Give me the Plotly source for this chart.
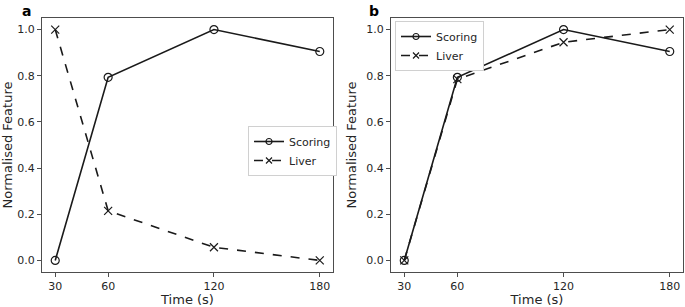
import plotly.graph_objects as go

time_s = [30, 60, 120, 180]
scoring_a = [0.0, 0.793, 1.0, 0.905]
liver_a = [1.0, 0.215, 0.057, 0.0]
scoring_b = [0.0, 0.793, 1.0, 0.905]
liver_b = [0.0, 0.785, 0.945, 1.0]
x_ticks = [30, 60, 120, 180]
y_ticks = [0.0, 0.2, 0.4, 0.6, 0.8, 1.0]

W, H = 685, 307
FONT = "DejaVu Sans"
TXT = "#262626"
AX = "#4d4d4d"
LC = "#1a1a1a"

fig = go.Figure()

def add(x, y, name, dash, symbol, xa, ya):
    fig.add_trace(go.Scatter(
        x=x, y=y, name=name, mode="lines+markers",
        line=dict(color=LC, width=1.6, dash=dash),
        marker=dict(symbol=symbol, size=8, color=LC, line=dict(color=LC, width=1.2)),
        xaxis=xa, yaxis=ya, showlegend=False))

def add_leg(name, dash, symbol, xa, ya, legend):
    fig.add_trace(go.Scatter(
        x=[None], y=[None], name=name, mode="lines+markers",
        line=dict(color=LC, width=1.6, dash=dash),
        marker=dict(symbol=symbol, size=6, color=LC, line=dict(color=LC, width=1.2)),
        xaxis=xa, yaxis=ya, legend=legend, showlegend=True))

add(time_s, scoring_a, "Scoring", "solid", "circle-open", "x", "y")
add(time_s, liver_a, "Liver", "dash", "x-thin-open", "x", "y")
add(time_s, scoring_b, "Scoring", "solid", "circle-open", "x2", "y2")
add(time_s, liver_b, "Liver", "dash", "x-thin-open", "x2", "y2")
add_leg("Scoring", "solid", "circle-open", "x", "y", "legend")
add_leg("Liver", "dash", "x-thin-open", "x", "y", "legend")
add_leg("Scoring", "solid", "circle-open", "x2", "y2", "legend2")
add_leg("Liver", "dash", "x-thin-open", "x2", "y2", "legend2")

ytop = 1 - 18 / H
ybot = 1 - 272 / H

def xax(dom, anchor):
    return dict(domain=dom, anchor=anchor, range=[22.5, 187.5], tickvals=x_ticks,
                ticks="outside", ticklen=4, tickcolor=AX, showline=True, linecolor=AX,
                linewidth=1, mirror=True, showgrid=False, zeroline=False,
                tickfont=dict(family=FONT, size=11, color=TXT),
                title=dict(text="Time (s)", font=dict(family=FONT, size=13, color=TXT), standoff=3),
                automargin=False)

def yax(anchor):
    return dict(domain=[ybot, ytop], anchor=anchor, range=[-0.05, 1.05], tickvals=y_ticks,
                ticktext=[f"{v:.1f}" for v in y_ticks],
                ticks="outside", ticklen=4, tickcolor=AX, showline=True, linecolor=AX,
                linewidth=1, mirror=True, showgrid=False, zeroline=False,
                tickfont=dict(family=FONT, size=11, color=TXT),
                title=dict(text="Normalised Feature", font=dict(family=FONT, size=13, color=TXT), standoff=6),
                automargin=False)

leg_common = dict(bgcolor="white", bordercolor="#d0d0d0", borderwidth=1,
                  font=dict(family=FONT, size=11, color=TXT), tracegroupgap=0,
                  itemwidth=30)

fig.update_layout(
    width=W, height=H, margin=dict(l=0, r=0, t=0, b=0),
    paper_bgcolor="white", plot_bgcolor="white",
    xaxis=xax([42 / W, 333 / W], "y"),
    yaxis=yax("x"),
    xaxis2=xax([391 / W, 683 / W], "y2"),
    yaxis2=yax("x2"),
    legend=dict(x=248 / W, y=1 - 126 / H, xanchor="left", yanchor="top", **leg_common),
    legend2=dict(x=395 / W, y=1 - 21 / H, xanchor="left", yanchor="top", **leg_common),
    annotations=[
        dict(text="<b>a</b>", x=20 / W, y=1 - 1 / H, xref="paper", yref="paper",
             xanchor="left", yanchor="top", showarrow=False,
             font=dict(family=FONT, size=14, color="black")),
        dict(text="<b>b</b>", x=367 / W, y=1 - 1 / H, xref="paper", yref="paper",
             xanchor="left", yanchor="top", showarrow=False,
             font=dict(family=FONT, size=14, color="black")),
    ],
)

fig.write_html("out.html", config={"displayModeBar": False},
               post_script="document.body.style.margin='0';document.body.style.overflow='hidden';")
